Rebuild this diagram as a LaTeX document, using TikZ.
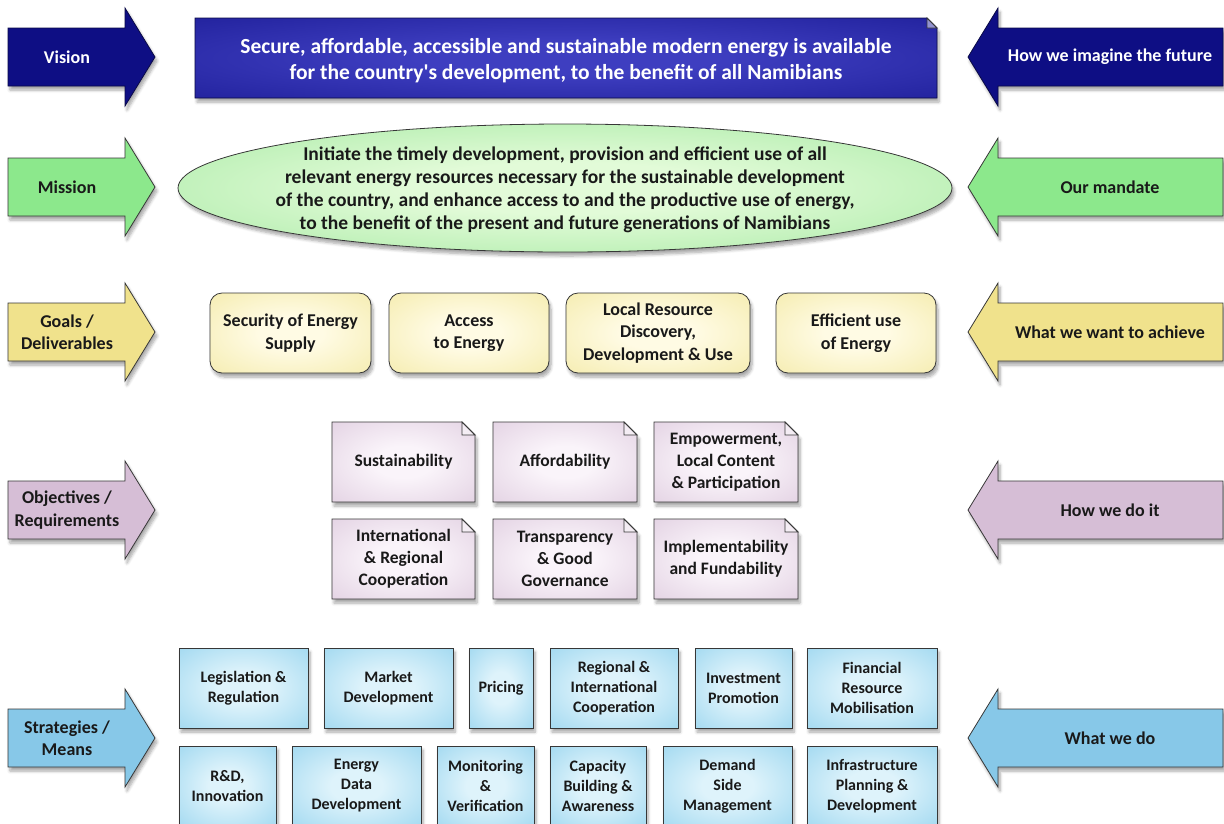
\documentclass[tikz,border=0pt]{standalone}
\usepackage{fontspec}
\setmainfont{Carlito}
\usepackage{tikz}
\usetikzlibrary{shadows,shadows.blur,shapes.geometric}
\definecolor{linegray}{RGB}{55,55,55}
\definecolor{textdark}{RGB}{25,25,25}
\definecolor{navyarr}{RGB}{14,14,132}
\definecolor{navyline}{RGB}{10,10,70}
\definecolor{visionout}{RGB}{20,20,140}
\definecolor{visionin}{RGB}{62,62,192}
\definecolor{greenarr}{RGB}{140,232,140}
\definecolor{greenout}{RGB}{140,226,140}
\definecolor{greenin}{RGB}{226,251,216}
\definecolor{yellowarr}{RGB}{240,226,140}
\definecolor{yellowout}{RGB}{240,229,150}
\definecolor{yellowin}{RGB}{255,251,228}
\definecolor{lilacarr}{RGB}{214,190,214}
\definecolor{lilacout}{RGB}{216,194,216}
\definecolor{lilacin}{RGB}{250,244,250}
\definecolor{bluearr}{RGB}{135,200,232}
\definecolor{blueout}{RGB}{132,204,235}
\definecolor{bluein}{RGB}{222,243,251}
\colorlet{glowin}{white}
\colorlet{glowout}{black}
\pgfdeclareradialshading[glowin,glowout]{glow}{\pgfpointorigin}{color(0bp)=(glowin); color(10bp)=(glowin); color(50bp)=(glowout)}
\newcommand{\sidearrowL}[5]{%
	\path[#2] (8,{#4-29}) -- (125,{#4-29}) -- (125,{#4-49}) -- (155,#4) -- (125,{#4+49}) -- (125,{#4+29}) -- (8,{#4+29}) -- cycle;
	\node[#3] (#1) at (67,#4) {#5};
}
\newcommand{\sidearrowR}[5]{%
	\path[#2] (1223,{#4-29}) -- (998,{#4-29}) -- (998,{#4-49}) -- (968,#4) -- (998,{#4+49}) -- (998,{#4+29}) -- (1223,{#4+29}) -- cycle;
	\node[#3] (#1) at (1110,#4) {#5};
}
\newcommand{\foldbox}[9]{%
	\path[#2] (#4,#5) -- ({#6-#8},#5) -- (#6,{#5+#8}) -- (#6,#7) -- (#4,#7) -- cycle;
	\path[foldcorner] ({#6-#8},#5) -- ({#6-#8},{#5+#8}) -- (#6,{#5+#8}) -- cycle;
	\node[#3] (#1) at ({(#4+#6)/2},{(#5+#7)/2}) {#9};
}

\begin{document}
\begin{tikzpicture}[x=1pt,y=-1pt]
\tikzstyle{shadowed}=[blur shadow={shadow blur steps=6, shadow xshift=2pt, shadow yshift=-4pt, shadow opacity=35, shadow blur radius=3pt}]
\tikzstyle{glowing}=[shade, shading=glow]
\tikzstyle{arrowtext}=[align=center, text=textdark, font=\bfseries\fontsize{18}{22.5}\selectfont]
\tikzstyle{arrowwhite}=[arrowtext, text=white]
\tikzstyle{navyarrow}=[fill=navyarr, draw=navyline, thick, shadowed]
\tikzstyle{greenarrow}=[fill=greenarr, draw=linegray, thick, shadowed]
\tikzstyle{yellowarrow}=[fill=yellowarr, draw=linegray, thick, shadowed]
\tikzstyle{lilacarrow}=[fill=lilacarr, draw=linegray, thick, shadowed]
\tikzstyle{bluearrow}=[fill=bluearr, draw=linegray, thick, shadowed]
\tikzstyle{foldcorner}=[draw=linegray, fill=white, fill opacity=0.5, thick]
\tikzstyle{visionbox}=[/utils/exec={\colorlet{glowin}{visionin}\colorlet{glowout}{visionout}}, glowing, draw=navyline, thick, shadowed]
\tikzstyle{visiontext}=[align=center, text=white, yshift=-3pt, font=\bfseries\fontsize{21.5}{26}\selectfont]
\tikzstyle{missionbox}=[ellipse, /utils/exec={\colorlet{glowin}{greenin}\colorlet{glowout}{greenout}}, glowing, draw=linegray, thick, shadowed, minimum width=774pt, minimum height=128pt]
\tikzstyle{missiontext}=[align=center, text=textdark, yshift=-2pt, font=\bfseries\fontsize{19.5}{23}\selectfont]
\tikzstyle{goalbox}=[rectangle, rounded corners=12pt, /utils/exec={\colorlet{glowin}{yellowin}\colorlet{glowout}{yellowout}}, glowing, draw=linegray, thick, shadowed, minimum height=80pt, align=center, text=textdark, font=\bfseries\fontsize{18}{22.5}\selectfont]
\tikzstyle{notebox}=[/utils/exec={\colorlet{glowin}{lilacin}\colorlet{glowout}{lilacout}}, glowing, draw=linegray, thick, shadowed]
\tikzstyle{notetext}=[align=center, text=textdark, font=\bfseries\fontsize{17.5}{22}\selectfont]
\tikzstyle{stratbox}=[rectangle, /utils/exec={\colorlet{glowin}{bluein}\colorlet{glowout}{blueout}}, glowing, draw=linegray, thick, shadowed, minimum height=80pt, inner sep=2pt, align=center, text=textdark, font=\bfseries\fontsize{16}{20}\selectfont]
\useasboundingbox (0,0) rectangle (1224,823);

	\sidearrowL{vision}{navyarrow}{arrowwhite}{57}{Vision}
	\sidearrowR{future}{navyarrow}{arrowwhite}{57}{How we imagine the future}
	\foldbox{visiontxt}{visionbox}{visiontext}{195}{18}{937}{98}{10}{Secure, affordable, accessible and sustainable modern energy is available\\for the country\textquotesingle s development, to the benefit of all Namibians}

	\sidearrowL{mission}{greenarrow}{arrowtext}{187}{Mission}
	\sidearrowR{mandate}{greenarrow}{arrowtext}{187}{Our mandate}
	\node[missionbox] (ell) at (565,188) {};
	\node[missiontext] (missiontxt) at (ell) {Initiate the timely development, provision and efficient use of all\\relevant energy resources necessary for the sustainable development\\of the country, and enhance access to and the productive use of energy,\\to the benefit of the present and future generations of Namibians};

	\sidearrowL{goals}{yellowarrow}{arrowtext}{332}{Goals /\\Deliverables}
	\sidearrowR{achieve}{yellowarrow}{arrowtext}{332}{What we want to achieve}
	\node[goalbox, minimum width=161pt] (g_1) at (290.5,333) {Security of Energy\\Supply};
	\node[goalbox, minimum width=160pt] (g_2) at (469,333) {Access\\to Energy};
	\node[goalbox, minimum width=184pt] (g_3) at (658,333) {Local Resource\\Discovery,\\Development \& Use};
	\node[goalbox, minimum width=160pt] (g_4) at (856,333) {Efficient use\\of Energy};

	\sidearrowL{objectives}{lilacarrow}{arrowtext}{510}{Objectives /\\Requirements}
	\sidearrowR{howdo}{lilacarrow}{arrowtext}{510}{How we do it}
	\foldbox{o_1}{notebox}{notetext}{332}{422}{475}{502}{13}{Sustainability}
	\foldbox{o_2}{notebox}{notetext}{493}{422}{637}{502}{13}{Affordability}
	\foldbox{o_3}{notebox}{notetext}{654}{422}{798}{502}{13}{Empowerment,\\Local Content\\\& Participation}
	\foldbox{o_4}{notebox}{notetext}{332}{519}{475}{599}{13}{International\\\& Regional\\Cooperation}
	\foldbox{o_5}{notebox}{notetext}{493}{519}{637}{599}{13}{Transparency\\\& Good\\Governance}
	\foldbox{o_6}{notebox}{notetext}{654}{519}{798}{599}{13}{Implementability\\and Fundability}

	\sidearrowL{strategies}{bluearrow}{arrowtext}{738}{Strategies /\\Means}
	\sidearrowR{whatdo}{bluearrow}{arrowtext}{738}{What we do}
	\node[stratbox, minimum width=129pt] (s_1) at (243.5,688) {Legislation \&\\Regulation};
	\node[stratbox, minimum width=129pt] (s_2) at (388.5,688) {Market\\Development};
	\node[stratbox, minimum width=64pt] (s_3) at (501,688) {Pricing};
	\node[stratbox, minimum width=128pt] (s_4) at (614,688) {Regional \&\\International\\Cooperation};
	\node[stratbox, minimum width=97pt] (s_5) at (743.5,688) {Investment\\Promotion};
	\node[stratbox, minimum width=130pt] (s_6) at (872,688) {Financial\\Resource\\Mobilisation};
	\node[stratbox, minimum width=97pt] (s_7) at (227.5,786) {R\&D,\\Innovation};
	\node[stratbox, minimum width=129pt] (s_8) at (356.5,786) {Energy\\Data\\Development};
	\node[stratbox, minimum width=97pt] (s_9) at (485.5,786) {Monitoring\\\&\\Verification};
	\node[stratbox, minimum width=96pt] (s_10) at (598,786) {Capacity\\Building \&\\Awareness};
	\node[stratbox, minimum width=129pt] (s_11) at (727.5,786) {Demand\\Side\\Management};
	\node[stratbox, minimum width=130pt] (s_12) at (872,786) {Infrastructure\\Planning \&\\Development};

\end{tikzpicture}
\end{document}
